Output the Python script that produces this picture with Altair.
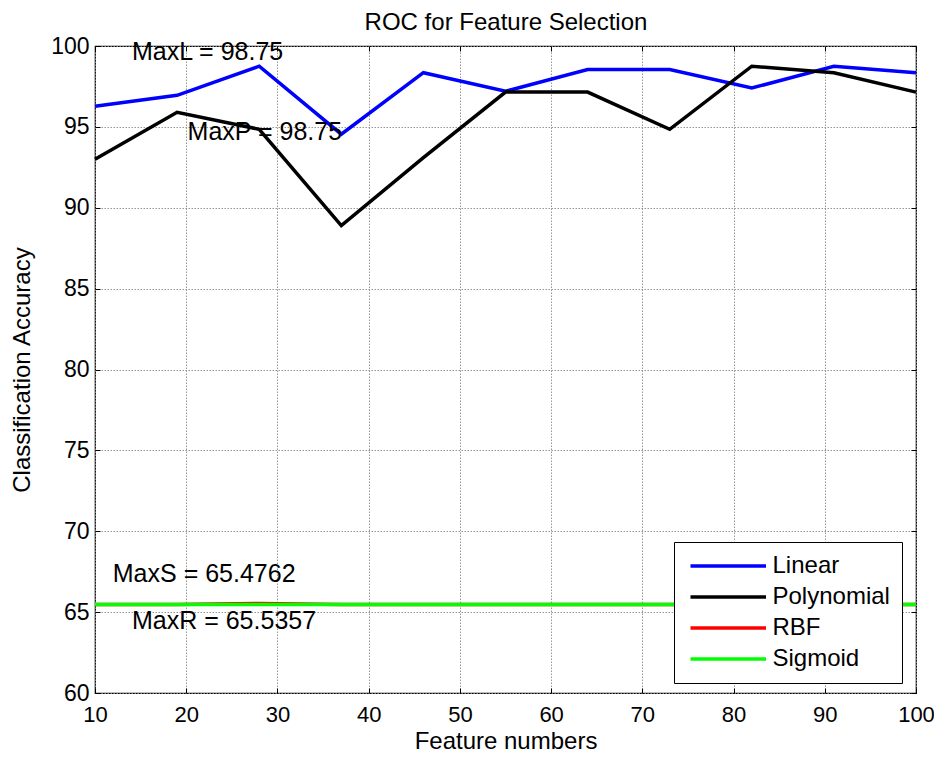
import altair as alt
import pandas as pd

features = [10, 19, 28, 37, 46, 55, 64, 73, 82, 91, 100]
linear = [96.27, 96.95, 98.75, 94.55, 98.35, 97.2, 98.55, 98.55, 97.4, 98.75, 98.35]
polynomial = [93.0, 95.9, 94.85, 88.9, 93.1, 97.15, 97.15, 94.85, 98.75, 98.35, 97.15]
rbf = [65.4762, 65.4762, 65.5357, 65.4762, 65.4762, 65.4762, 65.4762, 65.4762, 65.4762, 65.4762, 65.4762]
sigmoid = [65.4762, 65.4762, 65.4762, 65.4762, 65.4762, 65.4762, 65.4762, 65.4762, 65.4762, 65.4762, 65.4762]

series_names = ["Linear", "Polynomial", "RBF", "Sigmoid"]
series_colors = ["#0000ff", "#000000", "#ff0000", "#00ff00"]

note_labels = ["MaxL = 98.75", "MaxP = 98.75", "MaxS = 65.4762", "MaxR = 65.5357"]
note_x = [14.05, 20.15, 11.95, 14.05]
note_y = [99.6, 94.7, 67.35, 64.45]

x_ticks = [10, 20, 30, 40, 50, 60, 70, 80, 90, 100]
y_ticks = [60, 65, 70, 75, 80, 85, 90, 95, 100]

rows = []
for name, vals in zip(series_names, [linear, polynomial, rbf, sigmoid]):
    for f, v in zip(features, vals):
        rows.append({"Kernel": name, "Features": f, "Accuracy": v})
df = pd.DataFrame(rows)
notes = pd.DataFrame({"label": note_labels, "x": note_x, "y": note_y})

FONT = "Liberation Sans"
GRID = dict(gridColor="#8a8a8a", gridDash=[1.5, 1.5], gridWidth=0.9)

xscale = alt.Scale(domain=[10, 100], nice=False, zero=False)
yscale = alt.Scale(domain=[60, 100], nice=False, zero=False)

xaxis = alt.Axis(
    values=x_ticks, title="Feature numbers", grid=True, domain=False,
    ticks=True, tickSize=5, tickColor="black", tickWidth=1, offset=-5,
    labelPadding=11, labelFlush=False, labelFontSize=22, titleFontSize=24,
    titleFontWeight="normal", titleY=60, titleBaseline="alphabetic",
    labelColor="black", titleColor="black", labelFont=FONT, titleFont=FONT, **GRID,
)
yaxis = alt.Axis(
    values=y_ticks, title="Classification Accuracy", grid=True, domain=False,
    ticks=True, tickSize=5, tickColor="black", tickWidth=1, offset=-5,
    labelPadding=6, labelFontSize=23, titleFontSize=24, titleFontWeight="normal",
    titleX=-71, titleBaseline="alphabetic",
    labelColor="black", titleColor="black", labelFont=FONT, titleFont=FONT, **GRID,
)
xaxis_top = alt.Axis(
    orient="top", values=x_ticks, title="ROC for Feature Selection", grid=False, domain=False,
    labels=False, ticks=True, tickSize=5, tickColor="black", tickWidth=1, offset=-5,
    titleFontSize=24, titleFontWeight="normal", titleFont=FONT, titleColor="black",
    titleY=-21.7, titleBaseline="alphabetic",
)
yaxis_right = alt.Axis(
    orient="right", values=y_ticks, title=None, grid=False, domain=False,
    labels=False, ticks=True, tickSize=5, tickColor="black", tickWidth=1, offset=-5,
)

lines = alt.Chart(df).mark_line(strokeWidth=3.5).encode(
    x=alt.X("Features:Q", scale=xscale, axis=xaxis),
    y=alt.Y("Accuracy:Q", scale=yscale, axis=yaxis),
    color=alt.Color(
        "Kernel:N",
        scale=alt.Scale(domain=series_names, range=series_colors),
        sort=series_names,
        legend=alt.Legend(
            orient="none", legendX=579, legendY=496, title=None,
            symbolType="M-0.75,0H6.8", symbolSize=400, symbolStrokeWidth=3.5,
            labelOffset=62.5, padding=12, rowPadding=7,
            strokeColor="black", fillColor="white",
            labelFontSize=24, labelFont=FONT, labelColor="black",
        ),
    ),
)

texts = alt.Chart(notes).mark_text(
    align="left", baseline="middle", fontSize=25, font=FONT, color="black"
).encode(
    x=alt.X("x:Q", scale=xscale, axis=xaxis_top),
    y=alt.Y("y:Q", scale=yscale, axis=yaxis_right),
    text="label:N",
)

chart = alt.layer(lines, texts).resolve_axis(
    x="independent", y="independent"
).properties(
    width=821, height=647,
    autosize="none",
    padding={"left": 87, "top": 38, "right": 18, "bottom": 56},
    background="white",
).configure_view(stroke="black", strokeWidth=1.2)

chart.save("out.html", embed_options={"renderer": "svg", "actions": False})
